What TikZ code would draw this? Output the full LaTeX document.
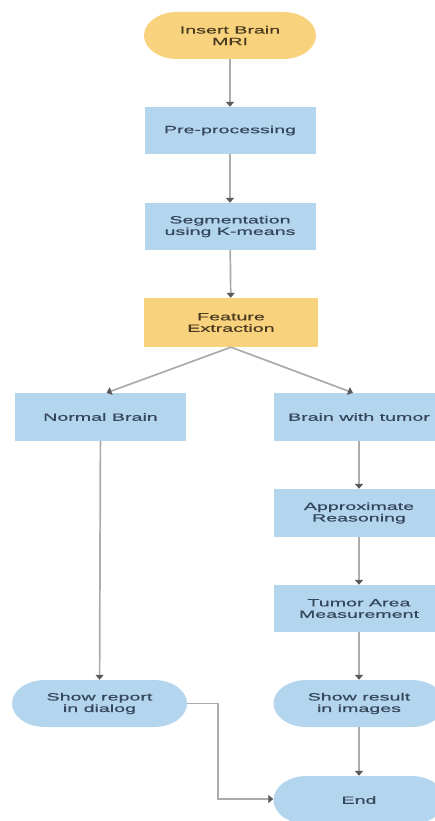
\documentclass[tikz,border=0pt]{standalone}
\usepackage{fontspec}
\setmainfont{Liberation Sans}
\newfontfamily\wfont[FakeStretch=1.87,FakeBold=0.6]{Liberation Sans}
\usetikzlibrary{arrows.meta,calc}
\definecolor{boxblue}{HTML}{B3D5EE}
\definecolor{boxorange}{HTML}{F9D27E}
\definecolor{linegray}{HTML}{ABABAB}
\definecolor{tipgray}{HTML}{5A5A5A}
\definecolor{txtblue}{HTML}{34465A}
\definecolor{txtbrown}{HTML}{4A3A20}
\tikzset{
  base/.style={minimum width=171pt, minimum height=47pt, inner sep=0pt,
    align=center, font=\wfont\fontsize{10.5}{11.5}\selectfont, text=txtblue},
  bluebox/.style={base, fill=boxblue},
  orangebox/.style={base, fill=boxorange, text=txtbrown},
  pillfill/.style={path picture={
    \fill[#1] ([xshift=33pt]path picture bounding box.north west)
      -- ([xshift=-33pt]path picture bounding box.north east)
      arc[start angle=90,end angle=-90,x radius=33pt,y radius=0.5*\pgfkeysvalueof{/pgf/minimum height}]
      -- ([xshift=33pt]path picture bounding box.south west)
      arc[start angle=270,end angle=90,x radius=33pt,y radius=0.5*\pgfkeysvalueof{/pgf/minimum height}]
      -- cycle;}},
  bluepill/.style={base, pillfill=boxblue},
  orangepill/.style={base, text=txtbrown, pillfill=boxorange},
  conn/.style={draw=linegray, line width=1.7pt,
    -{Triangle[length=5pt,width=8pt,fill=tipgray,color=tipgray]}}
}
\begin{document}
\begin{tikzpicture}[x=1pt,y=-1pt]
\useasboundingbox (0,0) rectangle (435,821);
\node[orangepill, minimum width=172pt] (start) at (230,35.5) {Insert Brain\\MRI};
\node[bluebox] (pre) at (230,130.5) {Pre-processing};
\node[bluebox] (seg) at (230,226.5) {Segmentation\\using K-means};
\node[orangebox, minimum width=174pt, minimum height=49pt] (feat) at (231,322.5) {Feature\\Extraction};
\node[bluebox, minimum height=48pt] (normal) at (100.5,417) {Normal Brain};
\node[bluebox, minimum height=48pt] (tumor) at (359,417) {Brain with tumor};
\node[bluebox, minimum height=48pt] (approx) at (359,513) {Approximate\\Reasoning};
\node[bluebox] (area) at (359,608.5) {Tumor Area\\Measurement};
\node[bluepill] (result) at (359,703.5) {Show result\\in images};
\node[bluepill, minimum width=175pt] (report) at (99.5,703.5) {Show report\\in dialog};
\node[bluepill, minimum height=48pt] (end) at (359,800) {End};
\coordinate (bend1) at (218,703.5);
\coordinate (bend2) at (218,799);

\draw[conn] (start) -- (pre);
\draw[conn] (pre) -- (seg);
\draw[conn] (seg) -- (feat);
\draw[conn] (feat.south) -- ([xshift=6pt]normal.north);
\draw[conn] (feat.south) -- ([xshift=-6pt]tumor.north);
\draw[conn] (tumor) -- (approx);
\draw[conn] (approx) -- (area);
\draw[conn] (area) -- (result);
\draw[conn] (result) -- (end);
\draw[conn] (normal) -- (report);
\draw[conn] (report.east) -- (bend1) -- (bend2) -- (end.west |- bend2);
\end{tikzpicture}
\end{document}
